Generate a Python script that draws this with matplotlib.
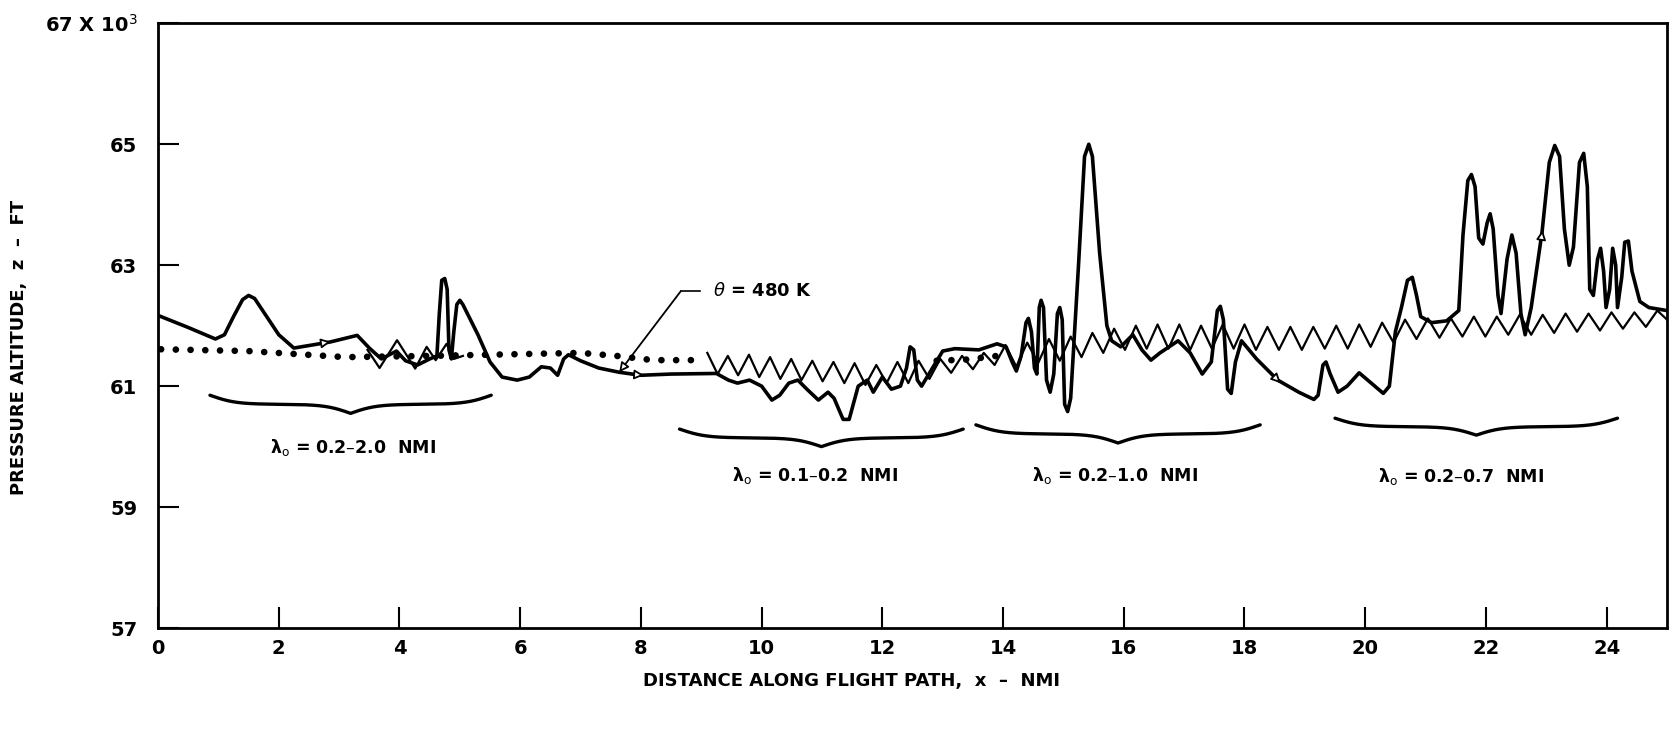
import numpy as np
import matplotlib
matplotlib.use('Agg')
from matplotlib import pyplot as plt

# thick trajectory line: distance (NMI) vs pressure altitude (10^3 ft)
track_x = [0.0, 0.5, 0.95, 1.1, 1.25, 1.4, 1.5, 1.6, 1.8, 2.0, 2.25, 2.85, 3.3, 3.5,
           3.7, 3.95, 4.1, 4.3, 4.5, 4.62, 4.66, 4.7, 4.75, 4.79, 4.82, 4.86, 4.9, 4.95,
           5.0, 5.05, 5.3, 5.5, 5.7, 5.95, 6.15, 6.35, 6.5, 6.62, 6.72, 6.8, 7.0, 7.3,
           7.64, 8.0, 8.5, 9.25, 9.45, 9.6, 9.8, 10.0, 10.17, 10.3, 10.45, 10.6, 10.75,
           10.94, 11.1, 11.2, 11.35, 11.45, 11.6, 11.75, 11.85, 12.0, 12.15, 12.3, 12.4,
           12.46, 12.52, 12.58, 12.65, 12.8, 13.0, 13.2, 13.6, 13.9, 14.05, 14.15, 14.22,
           14.3, 14.38, 14.42, 14.47, 14.52, 14.56, 14.6, 14.63, 14.67, 14.72, 14.78,
           14.84, 14.9, 14.94, 14.98, 15.02, 15.07, 15.12, 15.25, 15.35, 15.42, 15.48,
           15.6, 15.72, 15.8, 15.95, 16.05, 16.15, 16.3, 16.45, 16.6, 16.9, 17.1, 17.3,
           17.45, 17.55, 17.6, 17.65, 17.72, 17.78, 17.85, 17.95, 18.2, 18.55, 18.9,
           19.15, 19.22, 19.3, 19.35, 19.42, 19.55, 19.7, 19.9, 20.1, 20.3, 20.4, 20.5,
           20.6, 20.7, 20.78, 20.85, 20.92, 21.1, 21.35, 21.55, 21.62, 21.7, 21.76,
           21.82, 21.88, 21.95, 22.02, 22.07, 22.12, 22.2, 22.25, 22.35, 22.43, 22.5,
           22.58, 22.65, 22.75, 22.93, 23.05, 23.14, 23.22, 23.3, 23.38, 23.45, 23.55,
           23.62, 23.68, 23.72, 23.78, 23.85, 23.9, 23.95, 23.99, 24.05, 24.1, 24.15,
           24.18, 24.25, 24.3, 24.36, 24.42, 24.55, 24.7, 25.0]
track_z = [62.17, 61.97, 61.78, 61.85, 62.15, 62.43, 62.5, 62.45, 62.15, 61.85, 61.63, 61.73, 61.84, 61.63,
           61.45, 61.58, 61.42, 61.35, 61.45, 61.5, 62.2, 62.75, 62.78, 62.6, 61.6, 61.45, 61.9, 62.35,
           62.42, 62.35, 61.85, 61.4, 61.15, 61.1, 61.15, 61.32, 61.3, 61.18, 61.45, 61.52, 61.42, 61.3,
           61.23, 61.18, 61.2, 61.21, 61.1, 61.05, 61.1, 61.0, 60.77, 60.85, 61.05, 61.1, 60.95,
           60.77, 60.9, 60.8, 60.45, 60.45, 61.0, 61.1, 60.9, 61.15, 60.95, 61.0, 61.3,
           61.65, 61.6, 61.1, 61.0, 61.25, 61.58, 61.62, 61.6, 61.7, 61.65, 61.4, 61.25,
           61.5, 62.05, 62.12, 61.9, 61.3, 61.2, 62.3, 62.42, 62.3, 61.1, 60.9,
           61.2, 62.2, 62.3, 62.1, 60.7, 60.58, 60.8, 63.0, 64.8, 65.0, 64.8,
           63.2, 62.0, 61.75, 61.65, 61.75, 61.85, 61.6, 61.43, 61.55, 61.75, 61.55, 61.2,
           61.4, 62.25, 62.32, 62.1, 60.95, 60.88, 61.4, 61.75, 61.45, 61.1, 60.9,
           60.78, 60.85, 61.35, 61.4, 61.2, 60.9, 61.0, 61.22, 61.05, 60.88, 61.0, 61.9,
           62.3, 62.75, 62.8, 62.5, 62.15, 62.05, 62.08, 62.25, 63.5, 64.4, 64.5,
           64.3, 63.45, 63.35, 63.7, 63.85, 63.6, 62.5, 62.2, 63.1, 63.5, 63.2,
           62.2, 61.85, 62.3, 63.55, 64.7, 64.98, 64.8, 63.6, 63.0, 63.3, 64.7,
           64.85, 64.3, 62.6, 62.5, 63.1, 63.28, 62.9, 62.3, 62.6, 63.28, 63.0,
           62.3, 62.8, 63.38, 63.4, 62.9, 62.4, 62.3, 62.25]

# thin zigzag (short wavelengths)
zig1_x = [3.47, 3.67, 3.96, 4.26, 4.45, 4.6, 4.78, 4.9, 5.05]
zig1_z = [61.6, 61.3, 61.76, 61.29, 61.65, 61.43, 61.7, 61.45, 61.5]

zig2_x = [9.10, 9.27, 9.44, 9.61, 9.79, 9.96, 10.14, 10.31, 10.49, 10.66, 10.84, 11.01,
          11.19, 11.37, 11.54, 11.72, 11.90, 12.07, 12.25, 12.43, 12.60, 12.78, 12.96,
          13.14, 13.32, 13.50, 13.68, 13.86, 14.04, 14.22, 14.40, 14.58, 14.76, 14.94,
          15.12, 15.30, 15.48, 15.66, 15.84, 16.02, 16.20, 16.38, 16.56, 16.74, 16.92,
          17.10, 17.28, 17.46, 17.64, 17.82, 18.00, 18.19, 18.38, 18.57, 18.76, 18.95,
          19.14, 19.33, 19.52, 19.71, 19.90, 20.09, 20.28, 20.47, 20.66, 20.85, 21.04,
          21.23, 21.42, 21.61, 21.80, 21.99, 22.18, 22.37, 22.56, 22.75, 22.94, 23.13,
          23.32, 23.51, 23.70, 23.89, 24.08, 24.27, 24.46, 24.65, 24.84, 25.00]
zig2_z = [61.55, 61.20, 61.50, 61.18, 61.52, 61.15, 61.48, 61.12, 61.45, 61.10, 61.42, 61.08,
          61.40, 61.05, 61.38, 61.02, 61.35, 61.05, 61.40, 61.05, 61.42, 61.12, 61.45,
          61.22, 61.50, 61.28, 61.55, 61.35, 61.68, 61.32, 61.72, 61.38, 61.78, 61.42,
          61.82, 61.48, 61.88, 61.55, 61.95, 61.60, 62.00, 61.62, 62.02, 61.62, 62.02,
          61.60, 62.00, 61.62, 62.02, 61.62, 62.02, 61.60, 61.98, 61.60, 61.98, 61.60,
          61.98, 61.62, 62.00, 61.62, 62.02, 61.65, 62.05, 61.72, 62.10, 61.78, 62.12,
          61.80, 62.12, 61.82, 62.15, 61.82, 62.15, 61.85, 62.18, 61.85, 62.18, 61.88,
          62.20, 61.90, 62.20, 61.92, 62.22, 61.95, 62.22, 61.98, 62.25, 62.10]

# theta = 480 K surface (dotted)
theta_x = [0.05, 1.5, 3.1, 4.5, 6.0, 7.0, 7.6, 8.2, 8.95]
theta_z = [61.61, 61.58, 61.48, 61.5, 61.53, 61.55, 61.5, 61.43, 61.43]
theta2_x = [12.9, 13.4, 13.9]
theta2_z = [61.42, 61.44, 61.5]

# wavelength bands
band_x0 = [0.86, 8.64, 13.55, 19.5]
band_x1 = [5.52, 13.34, 18.26, 24.18]
band_top = [60.85, 60.29, 60.36, 60.47]
band_depth = [0.30, 0.29, 0.30, 0.28]
band_label_x = [3.23, 10.88, 15.85, 21.58]
band_label_z = [59.99, 59.53, 59.53, 59.5]
band_labels = ['λ$_{\\rm o}$ = 0.2–2.0  NMI', 'λ$_{\\rm o}$ = 0.1–0.2  NMI',
               'λ$_{\\rm o}$ = 0.2–1.0  NMI', 'λ$_{\\rm o}$ = 0.2–0.7  NMI']

plt.rcParams['font.family'] = ['DejaVu Sans']
plt.rcParams['mathtext.fontset'] = 'dejavusans'

fig = plt.figure(figsize=(16.69, 7.29), dpi=100)
ax = fig.add_axes([0.0947, 0.1385, 0.9041, 0.8295])

dots = (0, (0.01, 2.2))
ax.plot(theta_x, theta_z, color='k', lw=4.8, linestyle=dots, dash_capstyle='round')
ax.plot(theta2_x, theta2_z, color='k', lw=4.8, linestyle=dots, dash_capstyle='round')
ax.plot(zig1_x, zig1_z, color='k', lw=1.6)
ax.plot(zig2_x, zig2_z, color='k', lw=1.6)
ax.plot(track_x, track_z, color='k', lw=2.6, solid_joinstyle='round', solid_capstyle='round')

# small direction arrows on the trajectory
for (xa, za, xb, zb) in [(2.6, 61.69, 2.86, 61.735), (7.8, 61.2, 8.05, 61.18),
                         (18.35, 61.3, 18.6, 61.05), (22.85, 63.0, 22.94, 63.58)]:
    ax.annotate('', xy=(xb, zb), xytext=(xa, za),
                arrowprops=dict(arrowstyle='-|>', color='k', lw=1.3, fc='white',
                                mutation_scale=14, shrinkA=0, shrinkB=0))

# braces
for x0, x1, top, d in zip(band_x0, band_x1, band_top, band_depth):
    h = np.linspace(0, 0.5, 150)
    beta = 22.0
    yh = 1 / (1 + np.exp(-beta * (h - h[0]))) + 1 / (1 + np.exp(-beta * (h - h[-1])))
    yb = np.concatenate([yh, yh[::-1]])
    xb = np.concatenate([h, h + 0.5])
    ax.plot(x0 + xb * (x1 - x0), top - d * (yb - yb[0]) / (yb.max() - yb[0]),
            color='k', lw=2.4, solid_capstyle='round')

for lx, lz, lab in zip(band_label_x, band_label_z, band_labels):
    ax.text(lx, lz, lab, ha='center', va='center', fontsize=12.5, fontweight='bold')

# theta label with leader
ax.plot([8.66, 8.98], [62.57, 62.57], color='k', lw=1.2)
ax.annotate('', xy=(7.64, 61.23), xytext=(8.66, 62.57),
            arrowprops=dict(arrowstyle='-|>', color='k', lw=1.3, fc='white',
                            mutation_scale=14, shrinkA=0, shrinkB=0))
ax.text(9.2, 62.57, r'$\theta$ = 480 K', ha='left', va='center', fontsize=13, fontweight='bold')

ax.set_xlim(0, 25)
ax.set_ylim(57, 67)
ax.set_xticks([0, 2, 4, 6, 8, 10, 12, 14, 16, 18, 20, 22, 24])
ax.set_xticklabels(['0', '2', '4', '6', '8', '10', '12', '14', '16', '18', '20', '22', '24'])
ax.set_yticks([57, 59, 61, 63, 65, 67])
ax.set_yticklabels(['57', '59', '61', '63', '65', '67 X 10$^3$'])
ax.tick_params(axis='both', direction='in', length=15, width=1.5, labelsize=14)
ax.tick_params(axis='y', pad=15)
ax.tick_params(axis='x', pad=8)
for lbl in ax.get_xticklabels() + ax.get_yticklabels():
    lbl.set_fontweight('bold')
for s in ax.spines.values():
    s.set_linewidth(2.0)

fig.text(851 / 1669, 1 - 681 / 729, 'DISTANCE ALONG FLIGHT PATH,  x  –  NMI',
         ha='center', va='center', fontsize=13, fontweight='bold')
fig.text(19 / 1669, 1 - 347 / 729, 'PRESSURE ALTITUDE,  z  –  FT',
         ha='center', va='center', rotation=90, fontsize=13, fontweight='bold')

fig.savefig('out.png', dpi=100)
